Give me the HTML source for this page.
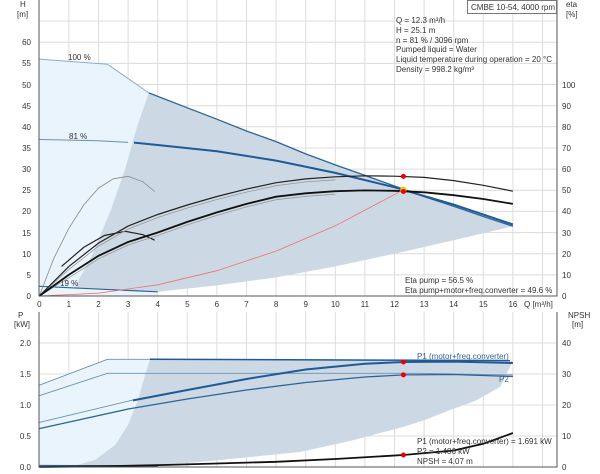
<!DOCTYPE html>
<html><head><meta charset="utf-8"><style>
body{margin:0;background:#fff;}
svg{display:block;font-family:"Liberation Sans",sans-serif;font-size:8px;fill:#333;}
</style></head><body>
<svg width="600" height="474" viewBox="0 0 600 474">
<!-- top grid -->
<g stroke="#dcdcdc" stroke-width="1">
<path d="M68.9 0V296M98.5 0V296M128.1 0V296M157.7 0V296M187.3 0V296M216.9 0V296M246.5 0V296M276.1 0V296M305.7 0V296M335.3 0V296M364.9 0V296M394.5 0V296M424.1 0V296M453.7 0V296M483.3 0V296M512.9 0V296M542.5 0V296"/>
<path d="M39 274.9H557M39 253.7H557M39 232.6H557M39 211.4H557M39 190.3H557M39 169.1H557M39 148H557M39 126.8H557M39 105.7H557M39 84.5H557M39 63.4H557M39 42.2H557M39 21H557"/>
</g>
<!-- regions -->
<path d="M39.3 296V59.1L107.4 64.2L148.8 92.9L157.7 296Z" fill="#eaf4fc"/>
<path d="M148.8 92.9L187.3 107.8L216.9 119.2L246.5 131L276.1 141.6L305.7 153.9L335.3 164.9L364.9 175.4L394.5 186L424.1 196.6L453.7 206.3L483.3 216.5L512.9 226.2L483.3 233.3L453.7 240.2L394.5 253.7L335.3 266.4L276.1 277.4L216.9 285.4L157.7 291.8L74.8 287.5L92.6 253.7L110.3 211.4L125.1 169.1L137 126.8Z" fill="#ccd9e4"/>
<!-- curves -->
<g fill="none">
<path d="M39.3 59.1L107.4 64.2L148.8 92.9" stroke="#8aaccc" stroke-width="1"/>
<path d="M148.8 92.9L187.3 107.8L216.9 119.2L246.5 131L276.1 141.6L305.7 153.9L335.3 164.9L364.9 175.4L394.5 186L424.1 196.6L453.7 206.3L483.3 216.5L512.9 226.2" stroke="#2c6499" stroke-width="1.3"/>
<path d="M39.3 139.5L98.5 140.8L128.1 142.4" stroke="#6a8fb5" stroke-width="1"/>
<path d="M134 142.6L157.7 145L216.9 151.3L276.1 160.6L335.3 172.9L394.5 187.3L453.7 204.6L512.9 224.5" stroke="#1f5a96" stroke-width="2"/>
<path d="M39.3 286.3L157.7 291.8" stroke="#2c6499" stroke-width="1.2"/>
<path d="M39.3 296L54 257.9L68.9 228.3L83.7 205L98.5 188.1L113.3 178.8L128.1 176.3L142.9 181.8L154.7 191.5" stroke="#888" stroke-width="0.8"/>
<path d="M61.5 266.4L83.7 247.4L104.4 235.5L125.1 231.3L142.9 234.7L154.7 240.2" stroke="#222" stroke-width="1.2"/>
<path d="M39.3 296L68.9 269.4L98.5 246.1L128.1 229.1L157.7 217.5L187.3 208L216.9 199.5L246.5 192.1L276.1 185.7L305.7 181.9L335.3 179.8" stroke="#999" stroke-width="0.8"/>
<path d="M39.3 296L68.9 277.8L98.5 258.8L128.1 245L157.7 235.5L187.3 224.9L216.9 215.4L246.5 206.9L276.1 199.7L305.7 196.3L335.3 194.2" stroke="#999" stroke-width="0.8"/>
<path d="M39.3 296L68.9 266.4L98.5 243.1L128.1 226.1L157.7 214.5L187.3 205L216.9 196.5L246.5 189.1L276.1 182.7L305.7 178.9L335.3 176.8L364.9 175.8L394.5 176.2L424.1 177.4L453.7 180.6L483.3 185.3L512.9 191.2" stroke="#222" stroke-width="1.2"/>
<path d="M39.3 296L68.9 274.8L98.5 255.8L128.1 242L157.7 232.5L187.3 221.9L216.9 212.4L246.5 203.9L276.1 196.7L305.7 193.3L335.3 191.2L364.9 190.4L394.5 190.8L424.1 192.3L453.7 195.2L483.3 199L512.9 203.9" stroke="#111" stroke-width="1.8"/>
<path d="M39.3 296L98.5 293.2L157.7 284.8L216.9 270.7L276.1 251.1L335.3 225.8L403.4 189.8" stroke="#f07070" stroke-width="0.8"/>
</g>
<circle cx="403.4" cy="176.4" r="2.5" fill="#e00"/>
<circle cx="403.4" cy="189.8" r="3.2" fill="#f5c400"/>
<circle cx="403.4" cy="191.5" r="2.5" fill="#e00"/>
<!-- top axes -->
<path d="M39 0V296H557V0" fill="none" stroke="#555" stroke-width="1"/>
<g text-anchor="end">
<text x="31" y="299">0</text><text x="31" y="278">5</text><text x="31" y="257">10</text><text x="31" y="236">15</text><text x="31" y="214">20</text><text x="31" y="193">25</text><text x="31" y="172">30</text><text x="31" y="151">35</text><text x="31" y="130">40</text><text x="31" y="109">45</text><text x="31" y="88">50</text><text x="31" y="66">55</text><text x="31" y="45">60</text>
</g>
<text x="20" y="7">H</text><text x="17" y="17">[m]</text>
<text x="566" y="7">eta</text><text x="566" y="17">[%]</text>
<g>
<text x="562" y="299">0</text><text x="562" y="278">10</text><text x="562" y="257">20</text><text x="562" y="236">30</text><text x="562" y="214">40</text><text x="562" y="193">50</text><text x="562" y="172">60</text><text x="562" y="151">70</text><text x="562" y="130">80</text><text x="562" y="109">90</text><text x="562" y="88">100</text>
</g>
<g text-anchor="middle">
<text x="39.3" y="307">0</text><text x="68.9" y="307">1</text><text x="98.5" y="307">2</text><text x="128.1" y="307">3</text><text x="157.7" y="307">4</text><text x="187.3" y="307">5</text><text x="216.9" y="307">6</text><text x="246.5" y="307">7</text><text x="276.1" y="307">8</text><text x="305.7" y="307">9</text><text x="335.3" y="307">10</text><text x="364.9" y="307">11</text><text x="394.5" y="307">12</text><text x="424.1" y="307">13</text><text x="453.7" y="307">14</text><text x="483.3" y="307">15</text><text x="512.9" y="307">16</text>
</g>
<text x="524" y="307">Q [m³/h]</text>
<text x="68" y="60">100 %</text><text x="69" y="139">81 %</text><text x="60" y="286">19 %</text>
<rect x="467.5" y="0.5" width="89" height="13" fill="#fff" stroke="#777"/>
<text x="471" y="10">CMBE 10-54, 4000 rpm</text>
<text x="396" y="23">Q = 12.3 m³/h</text>
<text x="396" y="33">H = 25.1 m</text>
<text x="396" y="43">n = 81 % / 3096 rpm</text>
<text x="396" y="52">Pumped liquid = Water</text>
<text x="396" y="62">Liquid temperature during operation = 20 °C</text>
<text x="396" y="72">Density = 998.2 kg/m³</text>
<text x="405" y="283">Eta pump = 56.5 %</text>
<text x="405" y="293">Eta pump+motor+freq.converter = 49.6 %</text>
<!-- bottom grid -->
<g stroke="#dcdcdc" stroke-width="1">
<path d="M68.9 312V467M98.5 312V467M128.1 312V467M157.7 312V467M187.3 312V467M216.9 312V467M246.5 312V467M276.1 312V467M305.7 312V467M335.3 312V467M364.9 312V467M394.5 312V467M424.1 312V467M453.7 312V467M483.3 312V467M512.9 312V467M542.5 312V467"/>
<path d="M39 436H557M39 405H557M39 374H557M39 343H557"/>
</g>
<path d="M39.3 467V385.2L107.4 359.3L150 359.3L145 375L138 400L128 425L115 445L95 460L70 467Z" fill="#eaf4fc"/>
<path d="M150 359.3L512.9 361L500 387L475 401L450 410L425 420L403 427L350 441L300 452L270 455L200 462L150 465L70 467L95 460L115 445L128 425L138 400L145 375Z" fill="#ccd9e4"/>
<g fill="none">
<path d="M39.3 385.2L107.4 359.3H150" stroke="#6a8fb5" stroke-width="0.9"/>
<path d="M150 359.3L510 360.5" stroke="#1f5a96" stroke-width="1.5"/>
<path d="M39.3 395.7L107.4 373.3H420L512.9 375" stroke="#6a8fb5" stroke-width="0.9"/>
<path d="M39.3 422.4L133 400" stroke="#6a8fb5" stroke-width="0.9"/>
<path d="M133 400.4L187.3 390L246.5 379L305.7 369.5L364.9 363.8L403.4 362L453.7 361.6L512.9 363" stroke="#1f5a96" stroke-width="2"/>
<path d="M39.3 428.6L128.1 409L187.3 399L246.5 390L305.7 382.5L364.9 377L403.4 374.9L453.7 374.5L512.9 376.5" stroke="#2c6499" stroke-width="1.3"/>
<path d="M39.3 465.5L157.7 465.8" stroke="#2c6499" stroke-width="1.3"/>
<path d="M39.3 467L98.5 466.4L157.7 465.1L216.9 463.5L276.1 461.8L335.3 459L403.4 455L453.7 450.5L483.3 443.8L512.9 433" stroke="#111" stroke-width="1.8"/>
</g>
<circle cx="403.4" cy="362" r="2.5" fill="#e00"/>
<circle cx="403.4" cy="374.9" r="2.5" fill="#e00"/>
<circle cx="403.4" cy="455" r="2.5" fill="#e00"/>
<path d="M39 312V467H557V312" fill="none" stroke="#555" stroke-width="1"/>
<text x="18" y="318">P</text><text x="14" y="327">[kW]</text>
<text x="568" y="318">NPSH</text><text x="572" y="327">[m]</text>
<g text-anchor="end">
<text x="31" y="470">0.0</text><text x="31" y="439">0.5</text><text x="31" y="408">1.0</text><text x="31" y="377">1.5</text><text x="31" y="346">2.0</text>
</g>
<text x="562" y="470">0</text><text x="562" y="439">10</text><text x="562" y="408">20</text><text x="562" y="377">30</text><text x="562" y="346">40</text>
<text x="417" y="359" fill="#3a5f8a">P1 (motor+freq.converter)</text>
<text x="499" y="382" fill="#3a5f8a">P2</text>
<text x="417" y="444">P1 (motor+freq.converter) = 1.691 kW</text>
<text x="417" y="454">P2 = 1.486 kW</text>
<text x="417" y="464">NPSH = 4.07 m</text>
</svg>
</body></html>
